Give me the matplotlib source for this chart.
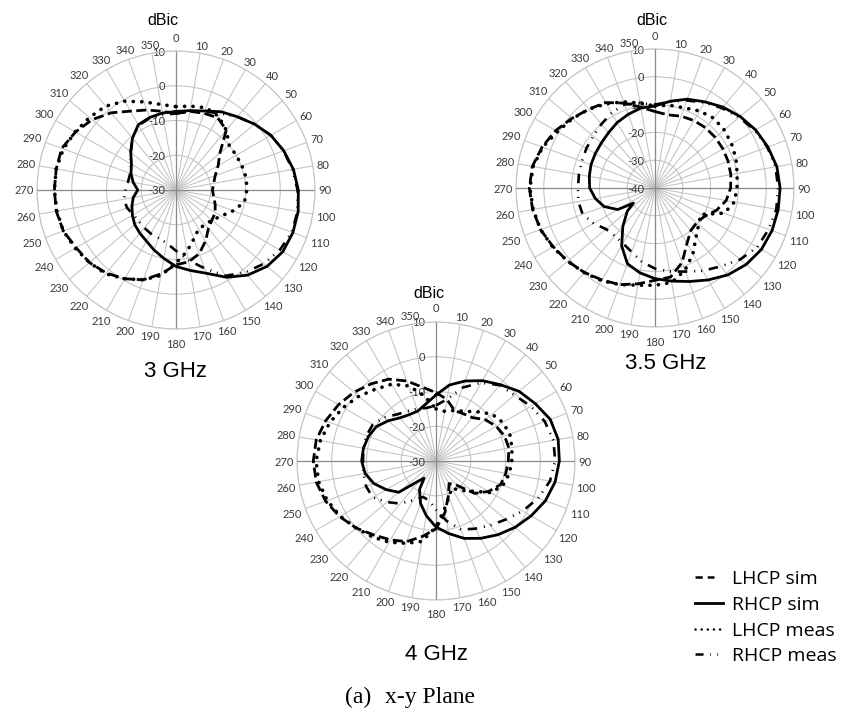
import numpy as np
import matplotlib.pyplot as plt
from matplotlib.lines import Line2D

W, H = 848, 711

angles = list(range(0, 360, 10))

# 3 GHz, dBic
lhcp_sim_3 = [-8, -7, -6.5, -6, -7.5, -13.5, -16, -18, -19, -19.5, -19, -18,
              -17, -16.5, -15.5, -13, -10.5, -9, -8.5, -5.5, -2.5, -0.5, 1.2, 2.5,
              3.2, 4.5, 5, 5, 5, 5, 3.4, 1.5, -1, -3.8, -5.5, -7]
rhcp_sim_3 = [-7.4, -6.8, -5.8, -4, -2.5, -0.5, 1.5, 3, 4.3, 5.2, 5.7, 5.8,
              5.5, 4.2, 2, -1, -4.5, -6.5, -8, -10, -11.6, -13, -13.8, -14.5,
              -15.5, -16.5, -17.5, -19, -17.5, -16.2, -15.2, -13, -10.5, -8.3, -7.8, -7.5]
lhcp_meas_3 = [-6, -5.5, -4.8, -5.5, -7.5, -10, -10, -9.8, -9.5, -9.6, -10, -12.5,
               -15, -16.5, -17, -17, -15, -12, -9, -5, -2.5, -0.5, 1.5, 2.5,
               3.5, 4.5, 4.8, 5, 5, 4.5, 3.5, 2.5, 1.5, -0.5, -3, -5]
rhcp_meas_3 = [-8, -7, -6, -4.5, -2.5, -0.5, 1.5, 3, 4, 5, 5.5, 5.5,
               4.5, 3, 1, -1.5, -6, -9.5, -12.5, -14.5, -15.3, -15.5, -15.8, -16,
               -15.8, -15, -14.8, -15.5, -16, -16, -15, -13, -10.5, -8.5, -8, -8]

# 3.5 GHz, dBic
lhcp_sim_35 = [-12.5, -13.3, -12.5, -12, -11.7, -11.7, -11.8, -12, -12.3, -12.8, -14, -16.5,
               -19.5, -20.5, -20, -17, -11.5, -7.5, -6.8, -5, -3, -1.8, -0.4, 1,
               2.3, 3.8, 4.7, 5.2, 4.8, 3.2, 1.3, -1, -3, -4.5, -7.5, -10.5]
rhcp_sim_35_angles = angles[:24] + [235] + angles[24:]
rhcp_sim_35 = [-10.5, -8.3, -6, -4.2, -2, 0, 1.8, 3.2, 4.5, 5, 5, 4.8,
               4.2, 2.8, 0.8, -1.8, -4.2, -6, -7.4, -9, -11, -16, -22, -27,
               -30.5, -24.5, -20.5, -18.2, -16.5, -16, -15.5, -15.2, -14.8, -14, -12.8, -11.8,
               -10.8]
lhcp_meas_35 = [-10.5, -9.8, -9.3, -8, -7.2, -7.5, -8.2, -9, -10, -10.5, -11, -13.5,
                -21, -19.5, -17, -12.7, -8.5, -5.5, -5, -4.5, -3, -1.5, -0.3, 1,
                2.5, 3.8, 4.5, 5, 4.5, 3, 0.5, -1.2, -3, -5, -7, -9]
rhcp_meas_35 = [-10, -8.5, -6.5, -4.5, -2.5, -0.5, 1.5, 3, 4, 4.3, 4.3, 3.5,
                2.5, 0, -3.2, -5.6, -8, -9.5, -11, -13, -15.5, -17, -17.5, -17,
                -14.5, -12.3, -12, -12.3, -12.2, -12, -11.5, -11, -10, -8.8, -8, -9]

# 4 GHz, dBic
lhcp_sim_4 = [-10.3, -12, -14.5, -14.3, -13.7, -11.5, -10, -9, -8.7, -9.2, -9.6, -10.2,
              -12.5, -15.5, -21, -22.5, -19.5, -15, -10.5, -8, -5.3, -3.8, -2.2, 0,
              2, 3.8, 5, 5.3, 5, 3.8, 2.4, 0.8, -1, -2.8, -5.5, -8.5]
rhcp_sim_4_angles = angles[:22] + [215, 222] + angles[23:]
rhcp_sim_4 = [-11, -7.8, -5.5, -3.3, -1.3, 1.2, 3, 5, 5.7, 5.5, 4.8, 3.5,
              1.6, -0.3, -2.3, -4.3, -6.3, -8.8, -11, -14, -17, -20.5, -24, -22,
              -16, -13.5, -11, -9.3, -8.6, -8.8, -9.3, -10.2, -12, -13.8, -14.6, -14.7,
              -13.3]
lhcp_meas_4 = [-15, -15.5, -14.5, -13.5, -11.5, -9, -7.8, -7.4, -7.8, -8.2, -8.6, -9.5,
               -11.8, -16.5, -19, -21, -19, -16, -11, -6.5, -4.8, -3, -1.5, 0,
               1.8, 3.3, 4.3, 4.5, 3.8, 2.5, 0.8, -1, -3, -4.5, -7, -11]
rhcp_meas_4 = [-14, -12, -7.5, -4, -1.5, -0.5, 1.5, 3.3, 4.3, 4.3, 3.3, 1.3,
               -1.2, -3.8, -5.8, -7.5, -9, -12.5, -16, -18.5, -19, -17, -14, -11.6,
               -9, -8.6, -8.8, -9, -8.8, -8.7, -9, -10.5, -12.5, -13.5, -14, -14.5]

legend_labels = ['LHCP sim', 'RHCP sim', 'LHCP meas', 'RHCP meas']

styles = {
    'lhcp_sim': dict(lw=2.0, linestyle=(0, (3.6, 1.6))),
    'rhcp_sim': dict(lw=2.0, linestyle='-'),
    'lhcp_meas': dict(lw=2.6, linestyle=(0, (0.05, 2.3)), dash_capstyle='round'),
    'rhcp_meas': dict(lw=1.9, linestyle=(0, (3.6, 2.6, 0.4, 2.2, 0.4, 2.6))),
}

GRID = '#c2c2c2'
TXT = '#3a3a3a'
R = 139

fig = plt.figure(figsize=(W / 100, H / 100), dpi=100)


def draw_panel(cx, cy, rmin, curves):
    ax = fig.add_axes([(cx - R) / W, (H - cy - R) / H, 2 * R / W, 2 * R / H],
                      projection='polar')
    ax.set_theta_zero_location('N')
    ax.set_theta_direction(-1)
    ax.set_ylim(rmin, 10)
    ax.set_xticks(np.deg2rad(angles))
    ax.set_xticklabels([])
    ax.set_yticks(list(range(rmin, 11, 10)))
    ax.set_yticklabels([])
    ax.grid(True, color=GRID, lw=0.75)
    ax.spines['polar'].set_color(GRID)
    ax.spines['polar'].set_linewidth(0.75)
    ax.tick_params(length=0)
    ax.set_axisbelow(True)
    ax.patch.set_alpha(0)

    # main axes through the centre are a bit darker
    for a in (0, 90):
        ax.plot(np.deg2rad([a, a + 180]), [10, 10], color='#8a8a8a', lw=0.9, zorder=1)

    for th, vals, key in curves:
        t = np.deg2rad(th + [th[0] + 360])
        ax.plot(t, vals + [vals[0]], color='black', zorder=3, **styles[key])

    # angle labels around the rim
    for a in angles:
        s = str(a)
        t = np.deg2rad(a)
        w, h = 6.5 * len(s), 8
        d = 3 + abs(np.sin(t)) * w / 2 + abs(np.cos(t)) * h / 2
        if a in (0, 180):
            d += 7
        ax.annotate(s, xy=(t, 10), xytext=(d * np.sin(t) * 0.72, d * np.cos(t) * 0.72),
                    textcoords='offset points', ha='center', va='center_baseline',
                    fontsize=8, family='Lato', color=TXT)

    # dB labels along the 0 deg spoke
    for v in range(rmin, 11, 10):
        ax.annotate(str(v), xy=(0, v), xytext=(-11 * 0.72, 0), textcoords='offset points',
                    ha='right', va='center_baseline', fontsize=8, family='Lato',
                    color=TXT, zorder=2)
    return ax


draw_panel(176, 190, -30, [
    (angles, lhcp_sim_3, 'lhcp_sim'),
    (angles, rhcp_sim_3, 'rhcp_sim'),
    (angles, lhcp_meas_3, 'lhcp_meas'),
    (angles, rhcp_meas_3, 'rhcp_meas'),
])
draw_panel(655, 188, -40, [
    (angles, lhcp_sim_35, 'lhcp_sim'),
    (rhcp_sim_35_angles, rhcp_sim_35, 'rhcp_sim'),
    (angles, lhcp_meas_35, 'lhcp_meas'),
    (angles, rhcp_meas_35, 'rhcp_meas'),
])
draw_panel(436, 461, -30, [
    (angles, lhcp_sim_4, 'lhcp_sim'),
    (rhcp_sim_4_angles, rhcp_sim_4, 'rhcp_sim'),
    (angles, lhcp_meas_4, 'lhcp_meas'),
    (angles, rhcp_meas_4, 'rhcp_meas'),
])


def fx(x):
    return x / W


def fy(y):
    return 1 - y / H


for x, y in [(163, 19), (652, 19), (429, 292)]:
    fig.text(fx(x), fy(y), 'dBic', ha='center', va='center_baseline', fontsize=11.5,
             family='Liberation Sans', color='black')

for x, y, s in [(176, 369, '3 GHz'), (666, 361, '3.5 GHz'), (436, 652, '4 GHz')]:
    fig.text(fx(x), fy(y), s, ha='center', va='center_baseline', fontsize=16,
             family='Liberation Sans', color='black')

fig.text(fx(371), fy(703), '(a)', ha='right', va='baseline', fontsize=17,
         family='Liberation Serif')
fig.text(fx(385), fy(703), 'x-y Plane', ha='left', va='baseline', fontsize=17,
         family='Liberation Serif')

# legend drawn by hand
legend_styles = [
    dict(lw=1.8, linestyle=(0, (2.9, 2.0))),
    dict(lw=2.0, linestyle='-'),
    dict(lw=1.8, linestyle=(0, (0.05, 2.4)), dash_capstyle='round'),
    dict(lw=1.8, linestyle=(0, (3.2, 2.6, 0.3, 2.5, 0.3, 3))),
]
legend_ends = [714, 723, 723, 721]
for i, (lab, st) in enumerate(zip(legend_labels, legend_styles)):
    base = [584, 610, 636, 661][i]
    fig.add_artist(Line2D([fx(695), fx(legend_ends[i])], [fy(base - 7)] * 2,
                          transform=fig.transFigure, color='black', **st))
    fig.text(fx(732), fy(base), lab, ha='left', va='baseline', fontsize=14,
             family='Open Sans', color='black')

fig.savefig('out.png', dpi=100)
